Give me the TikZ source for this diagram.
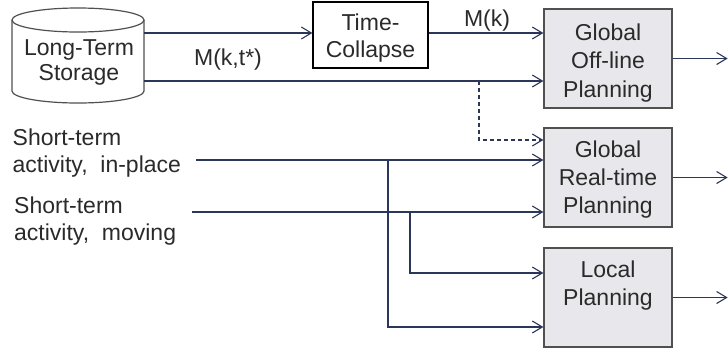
\documentclass[tikz,border=0pt]{standalone}
\usepackage{fontspec}
\setmainfont{Liberation Sans}
\usetikzlibrary{arrows.meta,calc}
\definecolor{ln}{HTML}{2B3658}
\definecolor{bxfill}{HTML}{E8E8EC}
\definecolor{bxdraw}{HTML}{505050}
\definecolor{tx}{HTML}{2A2A2A}
\begin{document}
\begin{tikzpicture}[x=1bp,y=-1bp,
  txt/.style={font=\fontsize{23bp}{27bp}\selectfont, inner sep=0pt, text=tx, align=center, anchor=base},
  txtl/.style={txt, align=left, anchor=base west},
  pbox/.style={draw=bxdraw, fill=bxfill, line width=1.3bp, minimum width=128bp, minimum height=99bp, inner sep=0pt},
  arr/.style={draw=ln, line width=1.3bp, -{Straight Barb[length=10bp,width=12bp,line width=1.1bp]}},
 ]
\useasboundingbox (0,0) rectangle (728,351);

% long-term storage cylinder
\path[draw=bxdraw, fill=white, line width=1.2bp]
  (12,20) -- (12,91) .. controls (12,97.6) and (41.55,103) .. (78,103)
  .. controls (114.45,103) and (144,97.6) .. (144,91) -- (144,20);
\draw[draw=bxdraw, fill=white, line width=1.2bp] (78,20) ellipse [x radius=66bp, y radius=12bp];
\node[txt, font=\fontsize{23bp}{25bp}\selectfont] (lts) at (79,80) {Long-Term\\Storage};

% time collapse
\node[draw=black, fill=white, line width=1.2bp, minimum width=115bp, minimum height=66bp, inner sep=0pt] (tc) at (370.5,35) {};
\node[txt] (tct) at (370.5,57) {Time-\\Collapse};

% planning boxes
\node[pbox] (g1) at (608,58.5) {};
\node[pbox] (g2) at (608,177.5) {};
\node[pbox] (g3) at (608,297.5) {};
\node[txt, font=\fontsize{23bp}{28.5bp}\selectfont] (g1t) at (608,97) {Global\\Off-line\\Planning};
\node[txt, font=\fontsize{23bp}{28bp}\selectfont] (g2t) at (608,213) {Global\\Real-time\\Planning};
\node[txt, font=\fontsize{23bp}{28bp}\selectfont] (g3t) at (608,305) {Local\\Planning};

% input labels
\node[txtl] (sip) at (12.5,172) {Short-term\\activity,\ \ in-place};
\node[txtl] (smv) at (14,240) {Short-term\\activity,\ \ moving};

% edge labels
\node[txt] (lmkt) at (228,65) {M(k,t*)};
\node[txt] (lmk) at (487,26) {M(k)};

% coordinates
\coordinate (c1) at (144,33);
\coordinate (c2) at (144,81);
\coordinate (d0) at (479,81);
\coordinate (yip) at (196,160);
\coordinate (ymv) at (192,212);
\coordinate (b1) at (388,160);
\coordinate (b2) at (410,212);
\coordinate (o1) at ($(g1.east)+(55,0)$);
\coordinate (o2) at ($(g2.east)+(55,0)$);
\coordinate (o3) at ($(g3.east)+(55,0)$);

% connectors
\draw[arr] (c1) -- (c1 -| tc.west);
\draw[arr] (c1 -| tc.east) -- (c1 -| g1.west);
\draw[arr] (c2) -- (c2 -| g1.west);
\draw[arr, dash pattern=on 4bp off 3bp] (d0) |- ($(g2.west)+(0,-37.5)$);
\draw[arr] (yip) -- (yip -| g2.west);
\draw[arr] (ymv) -- (ymv -| g2.west);
\draw[arr] (b2) |- ($(g3.west)+(0,-24.5)$);
\draw[arr] (b1) |- ($(g3.west)+(0,29.5)$);
\draw[arr] (g1.east) -- (o1);
\draw[arr] (g2.east) -- (o2);
\draw[arr] (g3.east) -- (o3);
\end{tikzpicture}
\end{document}
